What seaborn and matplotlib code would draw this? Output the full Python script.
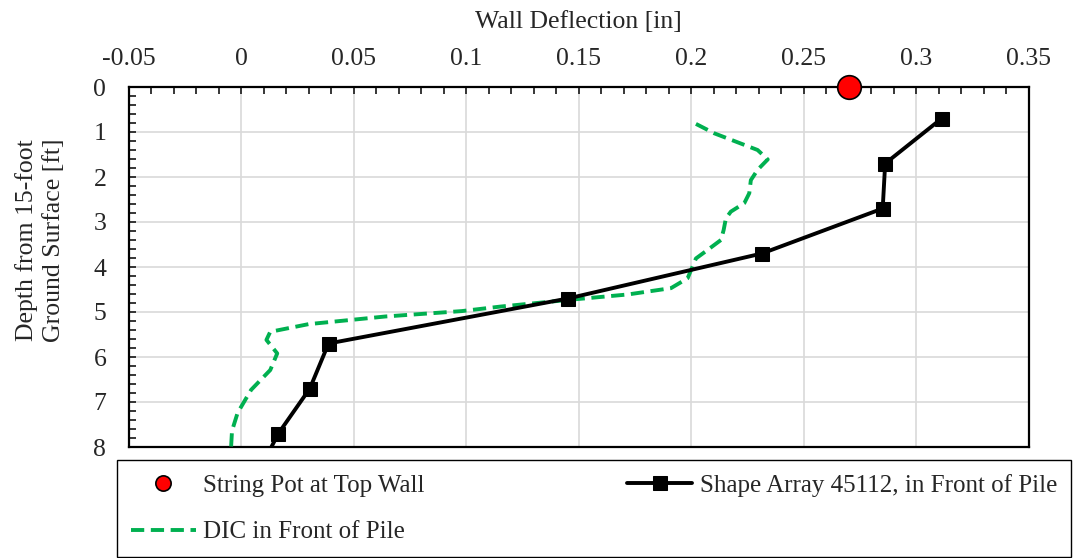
import numpy as np
import pandas as pd
import matplotlib
matplotlib.use('Agg')
import matplotlib.pyplot as plt
import seaborn as sns
from matplotlib.ticker import MultipleLocator, FuncFormatter

#------------------------------------------------
# string pot at top of wall
sp_defl=[0.27]
sp_depth=[0.0]

# shape array 45112 (last point below the axis, clipped)
sa_defl=[0.3114, 0.2863, 0.2852, 0.2315, 0.1453, 0.0389, 0.0306, 0.0166, 0.0063]
sa_depth=[0.7, 1.7, 2.7, 3.7, 4.7, 5.7, 6.7, 7.7, 8.7]

# DIC in front of pile
dic_defl=[0.2022, 0.2104, 0.2296, 0.2341, 0.2296, 0.2266, 0.2259, 0.2237, 0.2177,
          0.2155, 0.2145, 0.2133, 0.2074, 0.2022, 0.2000, 0.1985, 0.1911, 0.1720,
          0.1458, 0.1152, 0.0981, 0.0641, 0.0300, 0.0130, 0.0113, 0.0161, 0.0130,
          0.0045, -0.0015, -0.0040, -0.0044]
dic_depth=[0.82, 1.03, 1.40, 1.61, 1.84, 2.07, 2.36, 2.58, 2.77,
           2.92, 3.18, 3.40, 3.62, 3.81, 4.07, 4.25, 4.47, 4.61,
           4.73, 4.88, 4.98, 5.10, 5.27, 5.44, 5.62, 5.92, 6.29,
           6.73, 7.24, 7.64, 8.0]

fs=18.5
green='#00b050'

#########################################################
sns.set_style('white')
plt.rcParams['font.family']=['Liberation Serif', 'DejaVu Serif']

fig=plt.figure(figsize=(10.75, 5.58), dpi=100)
ax=fig.add_axes([128.5/1075, 1-447/558, 900/1075, 360/558])

#plot
sns.lineplot(x=sp_defl, y=sp_depth, ax=ax, marker='o', markersize=17, color='red',
             markeredgecolor='black', markeredgewidth=1.2, linestyle='none',
             clip_on=False, zorder=5, label='String Pot at Top Wall')
sns.lineplot(x=dic_defl, y=dic_depth, ax=ax, sort=False, estimator=None, color=green,
             linewidth=2.8, linestyle=(0, (3.4, 1.7)), label='DIC in Front of Pile', zorder=3)
sns.lineplot(x=sa_defl, y=sa_depth, ax=ax, sort=False, estimator=None, color='black',
             linewidth=2.8, marker='s', markersize=9.5, markeredgecolor='black',
             label='Shape Array 45112, in Front of Pile', zorder=4)

#axes
ax.set_xlim(-0.05, 0.35)
ax.set_ylim(8, 0)
ax.xaxis.set_major_locator(MultipleLocator(0.05))
ax.xaxis.set_minor_locator(MultipleLocator(0.01))
ax.yaxis.set_major_locator(MultipleLocator(1))
ax.yaxis.set_minor_locator(MultipleLocator(0.2))
ax.xaxis.set_major_formatter(FuncFormatter(lambda v, p: f'{round(v, 3):g}'))
ax.yaxis.set_major_formatter(FuncFormatter(lambda v, p: f'{round(v):d}'))
ax.xaxis.tick_top()
ax.xaxis.set_label_position('top')
ax.tick_params(axis='x', which='both', direction='in', length=5, width=1.3,
               top=True, bottom=False, labelsize=fs, pad=12)
ax.tick_params(axis='y', which='both', direction='in', length=5, width=1.3,
               left=True, right=False, labelsize=fs, pad=16)
ax.grid(True, which='major', color='#d9d9d9', linewidth=1.2)
ax.set_axisbelow(True)
for s in ax.spines.values():
    s.set_visible(True)
    s.set_color('black')
    s.set_linewidth(1.6)

ax.set_xlabel('Wall Deflection [in]', fontsize=fs, labelpad=15)
ax.set_ylabel('Depth from 15-foot\nGround Surface [ft]', fontsize=fs, linespacing=1.3)
ax.yaxis.set_label_coords(-0.07, 0.575)

#legend
h, l=ax.get_legend_handles_labels()
ax.get_legend().remove()
order=[0, 1, 2]
leg=fig.legend([h[i] for i in order], [l[i] for i in order], ncol=2, mode='expand',
               loc='lower left', bbox_to_anchor=(117/1075, 1/558, 954/1075, 97/558),
               fontsize=18, frameon=True, fancybox=False, framealpha=1,
               edgecolor='black', handlelength=2.6, handletextpad=0.3,
               labelspacing=0.95, borderpad=0.55, borderaxespad=0)
leg.get_frame().set_linewidth(1.0)
leg.legend_handles[0].set_markersize(11)

fig.savefig('out.png', dpi=100)
plt.close()
